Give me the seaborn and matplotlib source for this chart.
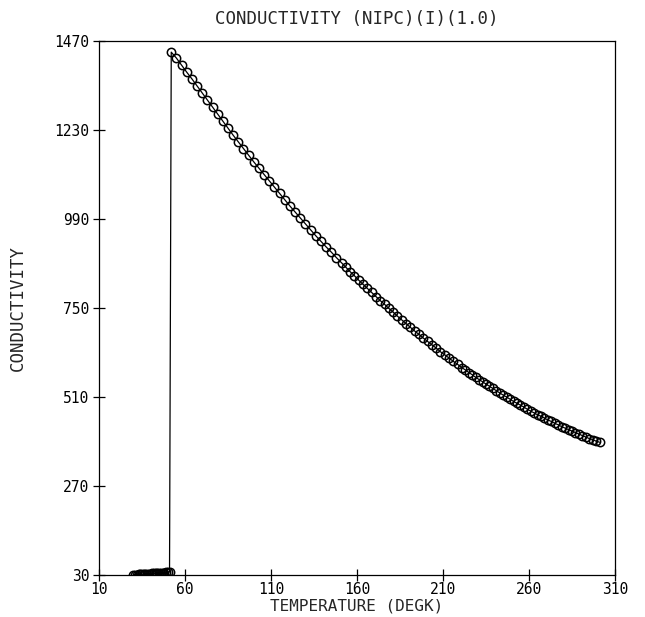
import matplotlib
matplotlib.use("Agg")
import matplotlib.pyplot as plt
import seaborn as sns
import pandas as pd

# ---- data ----
low_temp = [30.0, 31.0, 32.0, 33.0, 34.0, 35.0, 36.0, 37.0, 38.0, 39.0,
            40.0, 41.0, 42.0, 43.0, 44.0, 45.0, 46.0, 47.0, 48.0, 49.0,
            50.0, 51.0]
low_cond = [31, 31, 31, 32, 32, 32, 32, 33, 33, 33,
            33, 34, 34, 34, 35, 35, 35, 36, 36, 37,
            37, 38]

high_temp = [52, 55, 58, 61, 64, 67, 70, 73, 76, 79,
             82, 85, 88, 91, 94, 97, 100, 103, 106, 109,
             112, 115, 118, 121, 124, 127, 130, 133, 136, 139,
             142, 145, 148, 151,
             153.5, 156, 158.5, 161, 163.5, 166, 168.5, 171, 173.5, 176,
             178.5, 181, 183.5, 186, 188.5, 191, 193.5, 196, 198.5, 201,
             203.5, 206, 208.5, 211, 213.5, 216, 218.5, 221,
             223, 225, 227, 229, 231, 233, 235, 237, 239, 241,
             243, 245, 247, 249, 251, 253, 255, 257, 259, 261,
             263, 265, 267, 269, 271, 273, 275, 277, 279, 281,
             283, 285, 287, 289, 291, 293, 295, 297, 299, 301]
high_cond = [1440, 1424, 1405, 1386, 1368, 1349, 1330, 1311, 1292, 1273,
             1254, 1235, 1216, 1198, 1180, 1162, 1144, 1127, 1110, 1093,
             1076, 1059, 1042, 1025, 1009, 993, 977, 961, 945, 930,
             915, 901, 886, 872,
             860, 848, 837, 825, 814, 803, 792, 781, 770, 760,
             749, 739, 728, 718, 708, 698, 688, 679, 669, 660,
             651, 642, 632, 624, 615, 606, 598, 589,
             583, 576, 570, 563, 557, 551, 545, 539, 533, 527,
             521, 515, 510, 504, 498, 493, 488, 483, 477, 472,
             467, 462, 458, 453, 448, 444, 439, 435, 430, 426,
             422, 418, 414, 410, 406, 402, 398, 395, 391, 388]

x_ticks = [10, 60, 110, 160, 210, 260, 310]
y_ticks = [30, 270, 510, 750, 990, 1230, 1470]

title = "CONDUCTIVITY (NIPC)(I)(1.0)"
x_label = "TEMPERATURE (DEGK)"
y_label = "CONDUCTIVITY"

df = pd.DataFrame({"T": low_temp + high_temp, "C": low_cond + high_cond})

sns.set_style("white")
plt.rcParams["font.family"] = ["DejaVu Sans Mono", "DejaVu Sans"]

fig = plt.figure(figsize=(6.45, 6.17), dpi=100)
ax = fig.add_axes([0.1535, 0.0681, 0.8, 0.8654])

sns.lineplot(data=df, x="T", y="C", ax=ax, sort=False, estimator=None,
             color="black", lw=0.9, marker="o", ms=6.0, mfc="none",
             mec="black", mew=1.1)

ax.set_xlim(10, 310)
ax.set_ylim(30, 1470)
ax.set_xticks(x_ticks)
ax.set_yticks(y_ticks)
ax.set_xticklabels([str(v) for v in x_ticks])
ax.set_yticklabels([str(v) for v in y_ticks])
ax.tick_params(direction="inout", length=8, width=0.9, labelsize=10.5,
               colors="black", pad=3, bottom=True, left=True)
ax.tick_params(axis="x", pad=1)
for s in ax.spines.values():
    s.set_visible(True)
    s.set_color("black")
    s.set_linewidth(0.9)

ax.set_title(title, fontsize=12.5, pad=12)
ax.set_xlabel(x_label, fontsize=11.5)
ax.set_ylabel(y_label, fontsize=12.5)
ax.xaxis.set_label_coords(0.5, -0.0575)
ax.xaxis.label.set_va("center")
ax.yaxis.set_label_coords(-0.157, 0.5)
ax.yaxis.label.set(va="center", ha="center", rotation_mode="default")

fig.savefig("out.png", dpi=100, facecolor="white")
